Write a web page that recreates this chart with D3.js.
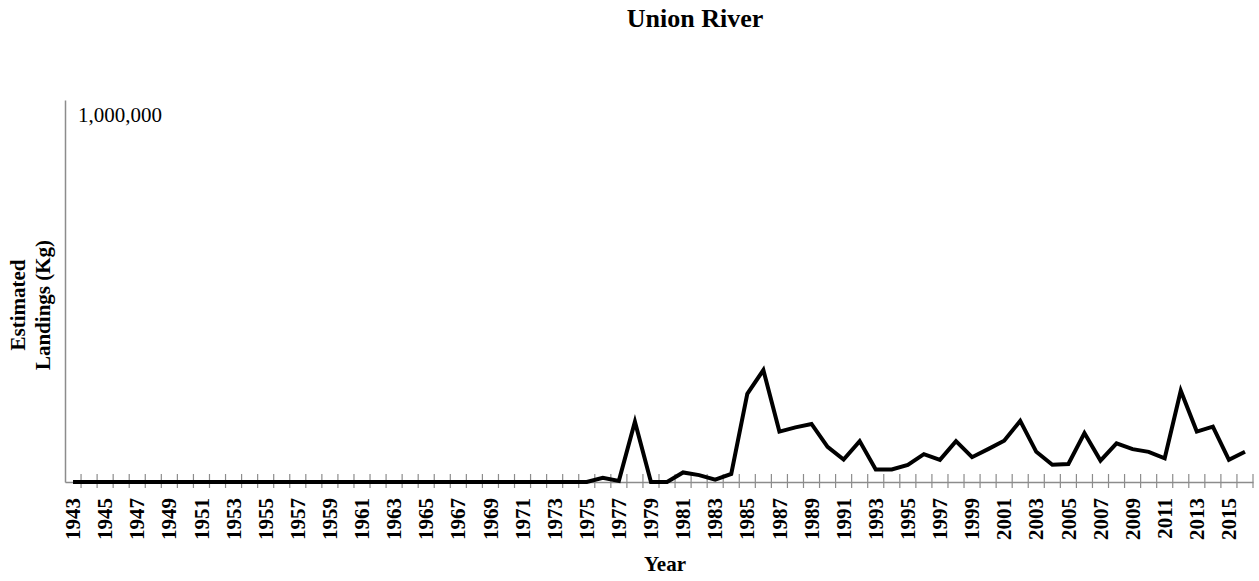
<!DOCTYPE html>
<html>
<head>
<meta charset="utf-8">
<script src="https://cdn.jsdelivr.net/npm/d3@7"></script>
<style>
  body { margin: 0; background: #fff; }
  text { font-family: "Liberation Serif", "Times New Roman", serif; fill: #000; }
</style>
</head>
<body>
<script>
// jaren (categorieen)
var years = [
  1943, 1944, 1945, 1946, 1947, 1948, 1949, 1950, 1951, 1952,
  1953, 1954, 1955, 1956, 1957, 1958, 1959, 1960, 1961, 1962,
  1963, 1964, 1965, 1966, 1967, 1968, 1969, 1970, 1971, 1972,
  1973, 1974, 1975, 1976, 1977, 1978, 1979, 1980, 1981, 1982,
  1983, 1984, 1985, 1986, 1987, 1988, 1989, 1990, 1991, 1992,
  1993, 1994, 1995, 1996, 1997, 1998, 1999, 2000, 2001, 2002,
  2003, 2004, 2005, 2006, 2007, 2008, 2009, 2010, 2011, 2012,
  2013, 2014, 2015, 2016
];

// geschatte aanvoer in kg
var landings = [
  0, 0, 0, 0, 0, 0, 0, 0, 0, 0,
  0, 0, 0, 0, 0, 0, 0, 0, 0, 0,
  0, 0, 0, 0, 0, 0, 0, 0, 0, 0,
  0, 0, 0, 11000, 3000, 158000, 0, 0, 25000, 18000,
  6000, 21000, 231000, 293000, 132000, 143000, 152000, 92000, 59000, 107000,
  33000, 33000, 45000, 73000, 58000, 107000, 65000, 86000, 108000, 160000,
  79000, 45000, 47000, 128000, 56000, 101000, 86000, 79000, 62000, 239000,
  132000, 145000, 58000, 79000
];

// alleen elk tweede jaar krijgt een label
var labelYears = [
  1943, 1945, 1947, 1949, 1951, 1953, 1955, 1957, 1959, 1961,
  1963, 1965, 1967, 1969, 1971, 1973, 1975, 1977, 1979, 1981,
  1983, 1985, 1987, 1989, 1991, 1993, 1995, 1997, 1999, 2001,
  2003, 2005, 2007, 2009, 2011, 2013, 2015
];

var yMax = 1000000;

var data = years.map(function(d, i) { return {year: d, value: landings[i]}; });

// speelveld
var margin = {top: 100, right: 6, bottom: 99, left: 65},
    width = 1259 - margin.left - margin.right,
    height = 581 - margin.top - margin.bottom;

var x = d3.scaleBand().domain(years).range([0, width]).padding(0);
var y = d3.scaleLinear().domain([0, yMax]).range([height, 0]);

var svg = d3.select("body").append("svg")
    .attr("width", 1259)
    .attr("height", 581);

var g = svg.append("g")
    .attr("transform", "translate(" + margin.left + "," + margin.top + ")");

// titel
svg.append("text")
    .attr("x", 695)
    .attr("y", 27)
    .attr("text-anchor", "middle")
    .style("font-size", "26px")
    .style("font-weight", "bold")
    .text("Union River");

// y-as (alleen de lijn)
var yAxis = g.append("g")
    .call(d3.axisLeft(y).tickValues([]).tickSizeOuter(0));
yAxis.select(".domain").attr("stroke", "#8c8c8c").attr("stroke-width", 1.5);

g.append("text")
    .attr("x", 13)
    .attr("y", y(yMax) + 22)
    .style("font-size", "21px")
    .text(d3.format(",")(yMax));

// y-as titel, twee regels
var yTitle = svg.append("text")
    .attr("transform", "translate(0,305) rotate(-90)")
    .attr("text-anchor", "middle")
    .style("font-size", "21px")
    .style("font-weight", "bold");
yTitle.append("tspan").attr("x", 0).attr("y", 25).text("Estimated");
yTitle.append("tspan").attr("x", 0).attr("y", 50).text("Landings (Kg)");

// x-as
var xAxis = g.append("g")
    .attr("transform", "translate(0," + height + ")")
    .call(d3.axisBottom(x).tickValues(labelYears).tickSize(0).tickPadding(0));
xAxis.select(".domain").attr("stroke", "#8c8c8c").attr("stroke-width", 1.5);
xAxis.selectAll(".tick text")
    .attr("transform", "rotate(-90)")
    .attr("x", -16)
    .attr("y", 0)
    .attr("dy", "0.34em")
    .attr("text-anchor", "end")
    .style("font-family", "'Liberation Serif', 'Times New Roman', serif")
    .style("font-size", "21px")
    .style("font-weight", "bold");

// streepjes tussen de jaren, kruisen de as
g.append("g")
    .selectAll("line")
    .data(years)
  .enter().append("line")
    .attr("x1", function(d) { return x(d) + x.bandwidth(); })
    .attr("x2", function(d) { return x(d) + x.bandwidth(); })
    .attr("y1", height - 8)
    .attr("y2", height + 6)
    .attr("stroke", "#8c8c8c")
    .attr("stroke-width", 1.2);

// x-as titel
svg.append("text")
    .attr("x", 665)
    .attr("y", 571)
    .attr("text-anchor", "middle")
    .style("font-size", "21px")
    .style("font-weight", "bold")
    .text("Year");

// de lijn
var valueLine = d3.line()
    .x(function(d) { return x(d.year) + x.bandwidth() / 2; })
    .y(function(d) { return y(d.value); });

g.append("path")
    .datum(data)
    .attr("fill", "none")
    .attr("stroke", "#000")
    .attr("stroke-width", 4)
    .attr("d", valueLine);
</script>
</body>
</html>
